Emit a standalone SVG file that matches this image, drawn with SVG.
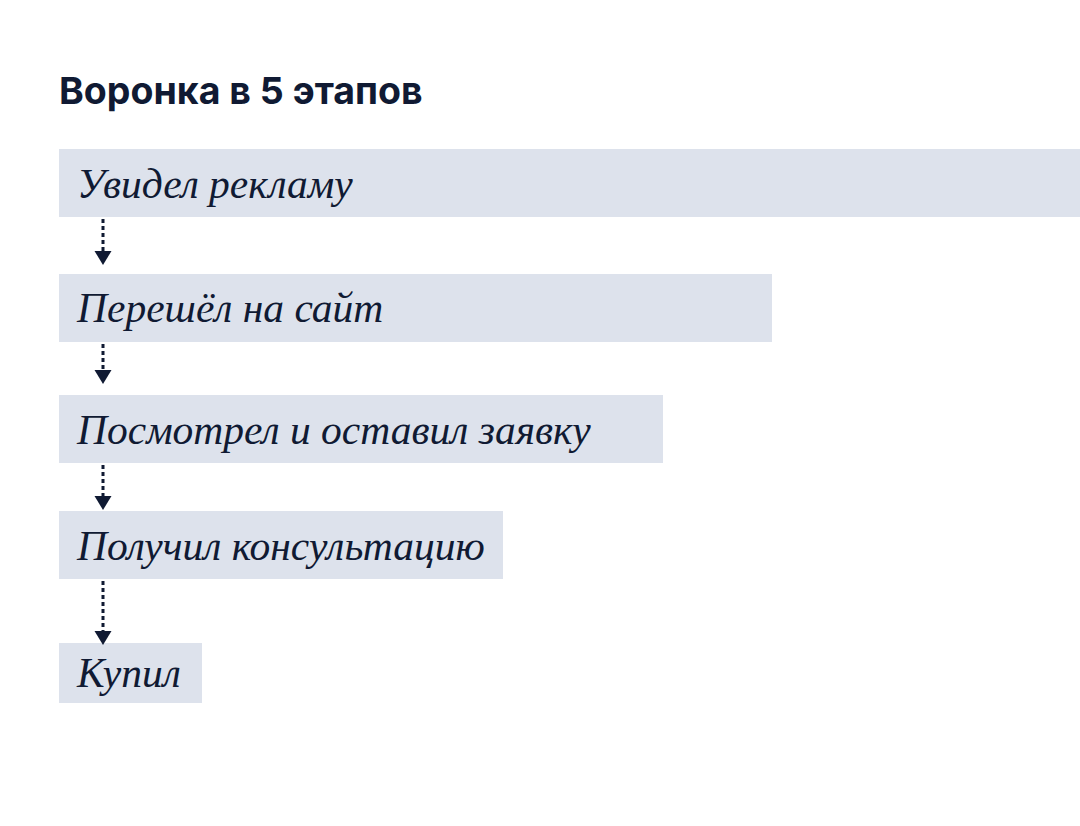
<svg xmlns="http://www.w3.org/2000/svg" width="1080" height="826" viewBox="0 0 1080 826">
<style>
.title{font-family:Inter,"Noto Sans","Liberation Sans",sans-serif;font-weight:700;font-size:37.5px;fill:#101a33}
.box{fill:#dde2ec}
.lbl{font-family:"Liberation Serif","DejaVu Serif",serif;font-style:italic;font-size:41.5px;fill:#101a33}
.conn line{stroke:#101a33;stroke-width:3;stroke-dasharray:4 3;fill:none}
.conn path{fill:#101a33}
</style>
<rect width="1080" height="826" fill="#ffffff"/>
<text class="title" x="59" y="104">Воронка в 5 этапов</text>
<g id="n1"><rect class="box" x="59" y="149" width="1021" height="68"/><text class="lbl" x="77" y="198">Увидел рекламу</text></g>
<g id="n2"><rect class="box" x="59" y="274" width="713" height="68"/><text class="lbl" x="77" y="322">Перешёл на сайт</text></g>
<g id="n3"><rect class="box" x="59" y="395" width="604" height="68"/><text class="lbl" x="77" y="444">Посмотрел и оставил заявку</text></g>
<g id="n4"><rect class="box" x="59" y="511" width="444" height="68"/><text class="lbl" x="77" y="560">Получил консультацию</text></g>
<g id="n5"><rect class="box" x="59" y="643" width="143" height="60"/><text class="lbl" x="77" y="687">Купил</text></g>
<g id="connectors" class="conn">
<line x1="103" y1="219" x2="103" y2="253"/><path d="M94.5 251 L111.5 251 L103 265 Z"/>
<line x1="103" y1="344" x2="103" y2="372"/><path d="M94.5 370 L111.5 370 L103 384 Z"/>
<line x1="103" y1="465" x2="103" y2="498"/><path d="M94.5 496 L111.5 496 L103 510 Z"/>
<line x1="103" y1="581" x2="103" y2="633"/><path d="M94.5 631 L111.5 631 L103 645 Z"/>
</g>
</svg>
